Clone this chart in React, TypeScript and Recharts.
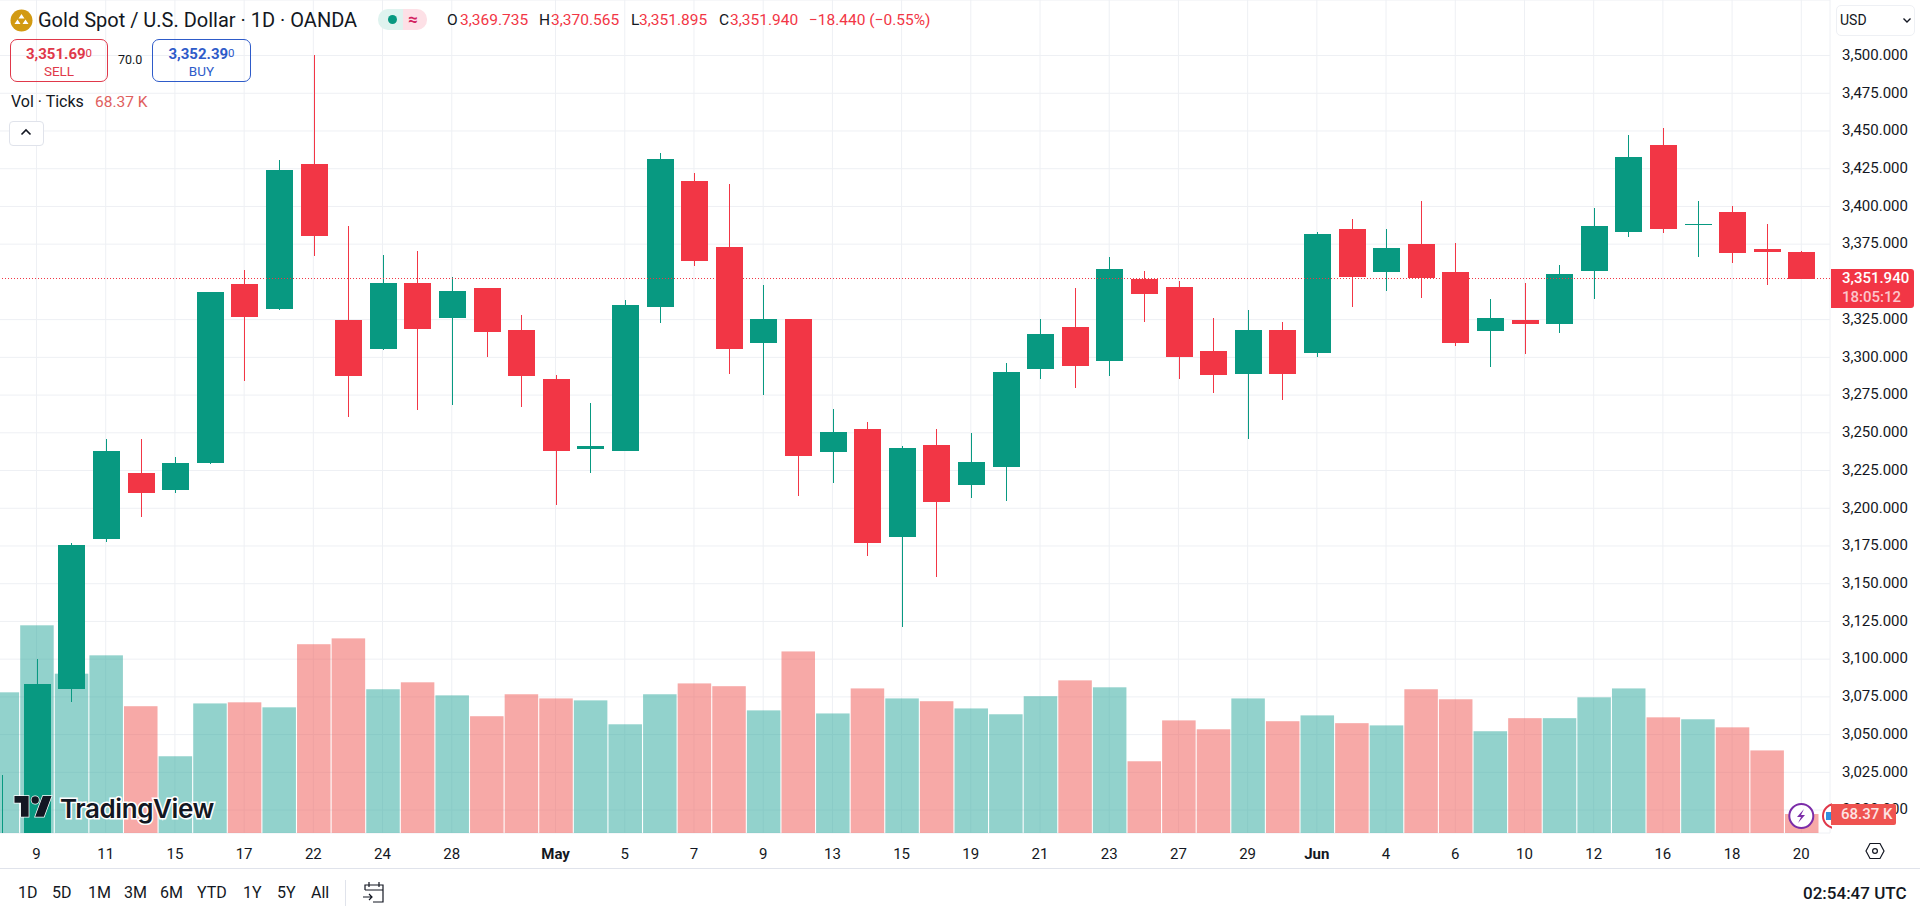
import { Bar, CartesianGrid, ComposedChart, ReferenceLine, XAxis, YAxis } from "recharts"

const categories = [
  "Apr 8", "Apr 9", "Apr 10", "Apr 11", "Apr 14", "Apr 15", "Apr 16", "Apr 17", "Apr 21", "Apr 22", "Apr 23",
  "Apr 24", "Apr 25", "Apr 28", "Apr 29", "Apr 30", "May 1", "May 2", "May 5", "May 6", "May 7", "May 8", "May 9",
  "May 12", "May 13", "May 14", "May 15", "May 16", "May 19", "May 20", "May 21", "May 22", "May 23", "May 26",
  "May 27", "May 28", "May 29", "May 30", "Jun 2", "Jun 3", "Jun 4", "Jun 5", "Jun 6", "Jun 9", "Jun 10", "Jun 11",
  "Jun 12", "Jun 13", "Jun 16", "Jun 17", "Jun 18", "Jun 19", "Jun 20",
]
const opens = [
  2970, 2982, 3080.2, 3179.8, 3223.3, 3212, 3230, 3348.6, 3332.2, 3428.1, 3324.7, 3305.7, 3349.2, 3326.3, 3345.9,
  3318, 3285.6, 3239.4, 3238.1, 3333.6, 3416.8, 3373.1, 3309.7, 3325.4, 3237.4, 3252.5, 3181.1, 3241.9, 3215.6,
  3227.5, 3292.4, 3320.1, 3297.8, 3351.9, 3346.6, 3304.2, 3289.1, 3318.1, 3303, 3385, 3356.7, 3375.1, 3356.5, 3317.6,
  3324.7, 3322.3, 3357.4, 3383.2, 3440.7, 3387.8, 3396.3, 3371.8, 3369.735,
]
const highs = [
  3023, 3100, 3176.7, 3245.9, 3245.9, 3233.7, 3343.5, 3357.9, 3430.7, 3500.3, 3387, 3367.8, 3370.4, 3353, 3346,
  3328, 3288.3, 3269.9, 3338, 3435.2, 3421.9, 3414.8, 3347.9, 3325.4, 3265.5, 3256.9, 3241.2, 3252.3, 3249.6,
  3296, 3325.4, 3345.7, 3366.3, 3357.2, 3350.6, 3325.8, 3331.3, 3323.4, 3382.8, 3392, 3385, 3403.6, 3375.7, 3338.6,
  3349.2, 3361.2, 3398.9, 3447.3, 3451.8, 3403.6, 3400.3, 3388.3, 3370.565,
]
const lows = [
  2950, 2970, 3071.8, 3177.6, 3194.2, 3210.3, 3229.5, 3284.5, 3331.6, 3367.3, 3260.7, 3305, 3265.3, 3268.4, 3300.4,
  3267.3, 3202.1, 3223.5, 3238, 3322.9, 3360.5, 3288.9, 3275, 3208.3, 3216.5, 3168.3, 3121.5, 3154.6, 3207,
  3205, 3285.8, 3279.9, 3287.8, 3323.6, 3285.6, 3276.3, 3246, 3271.7, 3300.4, 3333.3, 3344, 3339.5, 3307.5, 3293.8,
  3302.4, 3316.3, 3338.6, 3379.9, 3382.6, 3366.7, 3362.7, 3348, 3351.895,
]
const closes = [
  2982, 3083.5, 3175.6, 3237.9, 3210.3, 3230, 3343.3, 3326.9, 3424.1, 3380.6, 3287.8, 3349.2, 3319, 3343.9, 3317,
  3287.8, 3238.1, 3241, 3334.7, 3431.4, 3364, 3305.7, 3325.4, 3234.8, 3250.5, 3177.1, 3239.9, 3204.3, 3230.6,
  3290.3, 3315.4, 3294.4, 3358.5, 3342.1, 3300.4, 3288.5, 3318.1, 3289.1, 3381.7, 3353.4, 3372.4, 3352.8, 3309.7, 3326,
  3322.3, 3355.2, 3387, 3432.7, 3385.2, 3388.2, 3369.3, 3369.8, 3351.94,
]
const volumes = [
  506, 747, 573, 639, 456, 276, 466, 470, 452, 679, 700, 517, 542, 495, 420, 499, 484, 477, 391, 499, 538, 528, 441,
  653, 430, 520, 484, 474, 448, 427, 492, 549, 524, 258, 405, 373, 484, 402, 423, 395, 387, 517, 481, 366, 413, 413,
  488, 520, 416, 409, 380, 297, 68.37,
]

const priceTicks = [
  3000, 3025, 3050, 3075, 3100, 3125, 3150, 3175, 3200, 3225, 3250, 3275, 3300, 3325, 3375, 3400, 3425, 3450,
  3475, 3500,
]
const tickCategories = [
  "Apr 9", "Apr 11", "Apr 15", "Apr 17", "Apr 22", "Apr 24", "Apr 28", "May 1", "May 5", "May 7", "May 9", "May 13",
  "May 15", "May 19", "May 21", "May 23", "May 27", "May 29", "Jun 2", "Jun 4", "Jun 6", "Jun 10", "Jun 12", "Jun 16",
  "Jun 18", "Jun 20",
]
const tickLabels = [
  "9", "11", "15", "17", "22", "24", "28", "May", "5", "7", "9", "13", "15", "19", "21", "23", "27", "29", "Jun", "4",
  "6", "10", "12", "16", "18", "20",
]
const rangeButtons = ["1D", "5D", "1M", "3M", "6M", "YTD", "1Y", "5Y", "All"]
const rangeButtonLefts = [18, 52, 88, 124, 160, 197, 243, 277, 311]

const lastClose = 3351.94

const GREEN = "#089981"
const RED = "#F23645"
const FONT = "Roboto, sans-serif"
const TEXT = "#131722"

const data = categories.map((date, i) => ({
  date,
  open: opens[i],
  high: highs[i],
  low: lows[i],
  close: closes[i],
  volume: volumes[i],
}))

const isUp = (d: any) => d.close >= d.open

function Candle(props: any) {
  const { x, y, width, height, payload } = props
  const perUnit = height / (payload.high - payload.low)
  const yOf = (v: number) => y + (payload.high - v) * perUnit
  const top = Math.round(yOf(Math.max(payload.open, payload.close)))
  const bottom = Math.round(yOf(Math.min(payload.open, payload.close)))
  const color = isUp(payload) ? GREEN : RED
  const mid = Math.round(x + width / 2)
  return (
    <g shapeRendering="crispEdges">
      <rect x={mid} y={y} width={1} height={height} fill={color} />
      <rect x={mid - 13} y={top} width={27} height={Math.max(bottom - top, 1)} fill={color} />
    </g>
  )
}

function VolumeBar(props: any) {
  const { x, y, width, height, payload } = props
  return (
    <rect
      x={x}
      y={y}
      width={width}
      height={height}
      fill={isUp(payload) ? "rgba(38,166,154,0.5)" : "rgba(239,83,80,0.5)"}
    />
  )
}

function TimeTick(props: any) {
  const { x, y, payload } = props
  const label = tickLabels[tickCategories.indexOf(payload.value)]
  const bold = label === "May" || label === "Jun"
  return (
    <text x={x} y={y + 18} textAnchor="middle" fontSize={15} fontWeight={bold ? 700 : 400} fill={TEXT} fontFamily={FONT}>
      {label}
    </text>
  )
}

function Label(props: any) {
  const { left, top, size = 15.5, color = TEXT, weight = 400, children, style } = props
  return (
    <div
      style={{
        position: "absolute",
        left,
        top,
        fontSize: size,
        color,
        fontWeight: weight,
        lineHeight: "18px",
        whiteSpace: "nowrap",
        ...style,
      }}
    >
      {children}
    </div>
  )
}

function QuoteBox(props: any) {
  const { left, width, color, price, small, action } = props
  return (
    <div
      style={{
        position: "absolute",
        left,
        top: 39,
        width,
        height: 41,
        border: `1px solid ${color}`,
        borderRadius: 7,
        textAlign: "center",
        color,
        boxSizing: "content-box",
      }}
    >
      <div style={{ fontSize: 15, fontWeight: 700, lineHeight: "18px", marginTop: 4 }}>
        {price}
        <span style={{ fontSize: 11.5, fontWeight: 400, verticalAlign: 2 }}>{small}</span>
      </div>
      <div style={{ fontSize: 13.5, lineHeight: "17px" }}>{action}</div>
    </div>
  )
}

export default function App() {
  return (
    <div
      style={{
        position: "fixed",
        left: 0,
        top: 0,
        width: 1920,
        height: 916,
        background: "#fff",
        overflow: "hidden",
        fontFamily: FONT,
      }}
    >
      <ComposedChart width={1920} height={868} data={data} margin={{ top: 0, right: 0, bottom: 0, left: -15.4 }}>
        <CartesianGrid stroke="#eef0f4" strokeWidth={1} />
        <XAxis
          dataKey="date"
          ticks={tickCategories}
          interval={0}
          height={35}
          axisLine={false}
          tickLine={false}
          tick={<TimeTick />}
          padding={{ left: 0, right: 11.4 }}
        />
        <XAxis xAxisId="vol" dataKey="date" hide padding={{ left: 0, right: 11.4 }} />
        <YAxis
          orientation="right"
          width={90}
          domain={[2984.8, 3536.8]}
          allowDataOverflow
          ticks={priceTicks}
          interval={0}
          axisLine={false}
          tickLine={false}
          tickMargin={6}
          tick={{ fontSize: 15, fill: TEXT, fontFamily: FONT, dy: -1 }}
          tickFormatter={(v: number) => v.toLocaleString("en-US", { minimumFractionDigits: 3 })}
        />
        <YAxis yAxisId="vol" hide domain={[0, 2996]} />
        <ReferenceLine y={lastClose} stroke={RED} strokeDasharray="1 2" strokeWidth={1} shapeRendering="crispEdges" />
        <Bar
          xAxisId="vol"
          yAxisId="vol"
          dataKey="volume"
          barSize={33.5}
          shape={<VolumeBar />}
          isAnimationActive={false}
        />
        <Bar
          dataKey={(d: any) => [d.low, d.high]}
          barSize={27}
          shape={<Candle />}
          isAnimationActive={false}
        />
      </ComposedChart>

      {/* watermark */}
      <svg style={{ position: "absolute", left: 13, top: 795 }} width={40} height={24} viewBox="0 0 36 22">
        <path
          d="M14 1H1v6h6v13h7V1Zm14 19h-8l7-19h8l-7 19ZM20 8a3.4 3.4 0 1 0 0-6.8A3.4 3.4 0 0 0 20 8Z"
          fill="#131722"
          stroke="#fff"
          strokeWidth={1.4}
          paintOrder="stroke"
        />
      </svg>
      <Label
        left={60}
        top={795}
        size={26}
        weight={600}
        color="#131722"
        style={{
          fontFamily: "Inter, sans-serif",
          lineHeight: "28px",
          letterSpacing: -0.4,
          WebkitTextStroke: "3px #fff",
          paintOrder: "stroke fill",
        }}
      >
        TradingView
      </Label>

      {/* header */}
      <svg style={{ position: "absolute", left: 10, top: 9 }} width={23} height={23}>
        <circle cx={11.5} cy={11.5} r={11} fill="#D29A12" />
        <path d="M11.5 5l3 4.5h-6zM7.5 10.5l3 4.5h-6zM15.5 10.5l3 4.5h-6z" fill="#fff" />
      </svg>
      <Label left={38} top={9} size={20} style={{ lineHeight: "22px" }}>
        Gold Spot / U.S. Dollar · 1D · OANDA
      </Label>
      <div
        style={{
          position: "absolute",
          left: 378,
          top: 9,
          width: 25,
          height: 21,
          background: "#dff3ef",
          borderRadius: "10px 0 0 10px",
        }}
      />
      <div
        style={{
          position: "absolute",
          left: 403,
          top: 9,
          width: 24,
          height: 21,
          background: "#fde0e6",
          borderRadius: "0 10px 10px 0",
        }}
      />
      <div style={{ position: "absolute", left: 388, top: 15, width: 9, height: 9, borderRadius: 5, background: GREEN }} />
      <Label left={408} top={10} size={17} color="#d3225f" weight={700}>≈</Label>
      <Label left={447} top={11}>O</Label>
      <Label left={460} top={11} color={RED}>3,369.735</Label>
      <Label left={539} top={11}>H</Label>
      <Label left={551} top={11} color={RED}>3,370.565</Label>
      <Label left={631} top={11}>L</Label>
      <Label left={639} top={11} color={RED}>3,351.895</Label>
      <Label left={719} top={11}>C</Label>
      <Label left={730} top={11} color={RED}>3,351.940</Label>
      <Label left={809} top={11} color={RED}>−18.440 (−0.55%)</Label>

      <QuoteBox left={10} width={96} color="#E0384A" price="3,351.69" small="0" action="SELL" />
      <Label left={118} top={51} size={12.5}>70.0</Label>
      <QuoteBox left={152} width={97} color="#2E5BC9" price="3,352.39" small="0" action="BUY" />

      <Label left={11} top={93} size={16}>Vol · Ticks</Label>
      <Label left={95} top={93} size={15.5} color="#E0605E">68.37 K</Label>
      <div
        style={{
          position: "absolute",
          left: 9,
          top: 121,
          width: 33,
          height: 23,
          border: "1px solid #e0e3eb",
          borderRadius: 4,
          background: "#fff",
        }}
      />
      <svg style={{ position: "absolute", left: 20, top: 128 }} width={12} height={8}>
        <path d="M1.5 6.5L6 2l4.5 4.5" fill="none" stroke={TEXT} strokeWidth={1.6} />
      </svg>

      {/* right side */}
      <div
        style={{
          position: "absolute",
          left: 1836,
          top: 5,
          width: 77,
          height: 29,
          border: "1px solid #eef0f4",
          borderRadius: 5,
        }}
      />
      <Label left={1840} top={11} size={14}>USD</Label>
      <svg style={{ position: "absolute", left: 1902, top: 17 }} width={10} height={7}>
        <path d="M1.5 1.5L5 5l3.5-3.5" fill="none" stroke={TEXT} strokeWidth={1.4} />
      </svg>
      <div
        style={{
          position: "absolute",
          left: 1831,
          top: 269,
          width: 83,
          height: 39,
          background: RED,
          borderRadius: "0 3px 3px 0",
        }}
      />
      <Label left={1842} top={269} size={15} color="#fff" weight={500}>3,351.940</Label>
      <Label left={1842} top={288} size={15} color="#fcc5cb" weight={500}>18:05:12</Label>

      {/* event icons */}
      <svg style={{ position: "absolute", left: 1786, top: 801 }} width={32} height={30}>
        <circle cx={15.3} cy={15} r={12} fill="#fff" stroke="#7B2CA8" strokeWidth={2} />
        <path d="M18 8l-7 8h4l-3 6 7-8h-4z" fill="#7B2CA8" />
      </svg>
      <svg style={{ position: "absolute", left: 1820, top: 801 }} width={12} height={30}>
        <circle cx={15} cy={15} r={12} fill="#fff" stroke="#E0384A" strokeWidth={2} />
        <rect x={6} y={11} width={6} height={8} fill="#2F8FE0" />
      </svg>
      <div
        style={{
          position: "absolute",
          left: 1831,
          top: 804,
          width: 65,
          height: 21,
          background: "#EF5350",
          borderRadius: "0 2px 2px 0",
        }}
      />
      <Label left={1841} top={805} size={15} color="#fde3e3" weight={500}>68.37 K</Label>
      <svg style={{ position: "absolute", left: 1865, top: 842 }} width={20} height={18}>
        <path d="M5 1.5h10L19 9l-4 7.500H5L1 9z" fill="none" stroke={TEXT} strokeWidth={1.2} />
        <circle cx={10} cy={9} r={2.4} fill="none" stroke={TEXT} strokeWidth={1.2} />
      </svg>

      {/* bottom bar */}
      <div style={{ position: "absolute", left: 0, top: 868, width: 1920, height: 1, background: "#e0e3eb" }} />
      {rangeButtons.map((b, i) => (
        <Label key={b} left={rangeButtonLefts[i]} top={884} size={16}>
          {b}
        </Label>
      ))}
      <div style={{ position: "absolute", left: 345, top: 880, width: 1, height: 26, background: "#e0e3eb" }} />
      <svg style={{ position: "absolute", left: 362, top: 880 }} width={24} height={24} fill="none" stroke={TEXT} strokeWidth={1.2}>
        <path d="M3 10V5h18v17H11M3 10h18M7 2v5M17 2v5M1 17h9M7 14l3 3-3 3" />
      </svg>
      <Label left={1803} top={884} size={17} weight={500}>02:54:47 UTC</Label>
    </div>
  )
}
